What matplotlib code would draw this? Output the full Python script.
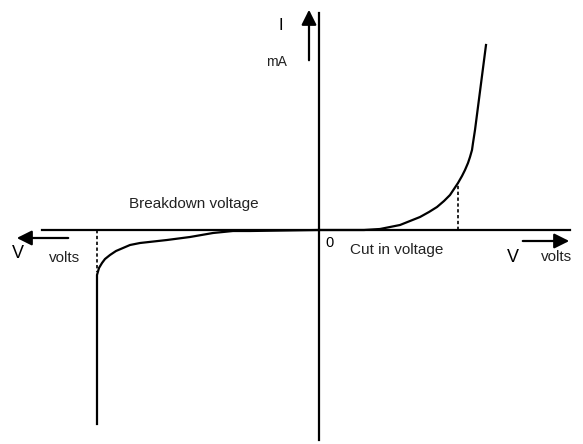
import matplotlib
matplotlib.use('Agg')
import matplotlib.pyplot as plt
import numpy as np

plt.rcParams['font.family'] = ['Liberation Sans', 'DejaVu Sans']

# forward bias branch (V, I) in diagram units
fwd_v = [0, 30, 45, 61, 71, 81, 91, 101, 110, 118, 125, 131, 135, 139, 143, 146, 149, 151, 153, 154, 156, 167]
fwd_i = [0, 0, 0, 1, 3, 5, 9, 13, 18, 23, 29, 35, 41, 47, 54, 60, 67, 73, 80, 87, 100, 185]

# reverse bias branch
rev_v = [0, -69, -86, -106, -129, -152, -179, -189, -196, -203, -209, -214, -217, -220, -222, -222, -222]
rev_i = [0, -1, -1, -3, -7, -10, -13, -15, -18, -21, -25, -29, -33, -38, -45, -55, -194]

cut_in_v, cut_in_i = 139, 47
breakdown_v, breakdown_i = -222, -42

fig = plt.figure(figsize=(5.83, 4.44), dpi=100)
ax = fig.add_axes([0, 0, 1, 1])
ax.set_xlim(-319, 264)
ax.set_ylim(-214, 230)
ax.axis('off')

lw = 1.6
# axes of the diagram
ax.plot([-277, 251], [0, 0], color='black', lw=lw)
ax.plot([0, 0], [-210, 217], color='black', lw=lw)

# characteristic curve
ax.plot(fwd_v, fwd_i, color='black', lw=lw, solid_joinstyle='round')
ax.plot(rev_v, rev_i, color='black', lw=lw, solid_joinstyle='round')

# dashed markers
ax.plot([cut_in_v, cut_in_v], [0, cut_in_i], color='black', lw=1.2, ls=(0, (2, 1.5)))
ax.plot([breakdown_v, breakdown_v], [0, breakdown_i], color='black', lw=1.2, ls=(0, (2, 1.5)))

# arrows
arrow = dict(arrowstyle='-|>,head_length=0.9,head_width=0.45', color='black', lw=1.6)
ax.annotate('', xy=(-10, 223), xytext=(-10, 167), arrowprops=arrow)
ax.annotate('', xy=(-305, -8), xytext=(-248, -8), arrowprops=arrow)
ax.annotate('', xy=(253, -11), xytext=(201, -11), arrowprops=arrow)

# labels
txt = '#222222'
ax.text(-38, 204, 'I', fontsize=12, ha='center', va='center')
ax.text(-43, 168, 'mA', fontsize=10, ha='center', va='center', color=txt)
ax.text(-125, 26, 'Breakdown voltage', fontsize=11, ha='center', va='center', color=txt)
ax.text(-301, -24, 'V', fontsize=13, ha='center', va='center')
ax.text(-254, -28, 'volts', fontsize=11, ha='center', va='center', color=txt)
ax.text(10, -13, '0', fontsize=10.5, ha='center', va='center')
ax.text(78, -20, 'Cut in voltage', fontsize=11, ha='center', va='center', color=txt)
ax.text(194, -27, 'V', fontsize=13, ha='center', va='center')
ax.text(238, -27, 'volts', fontsize=11, ha='center', va='center', color=txt)

fig.savefig('out.png', dpi=100, facecolor='white')
